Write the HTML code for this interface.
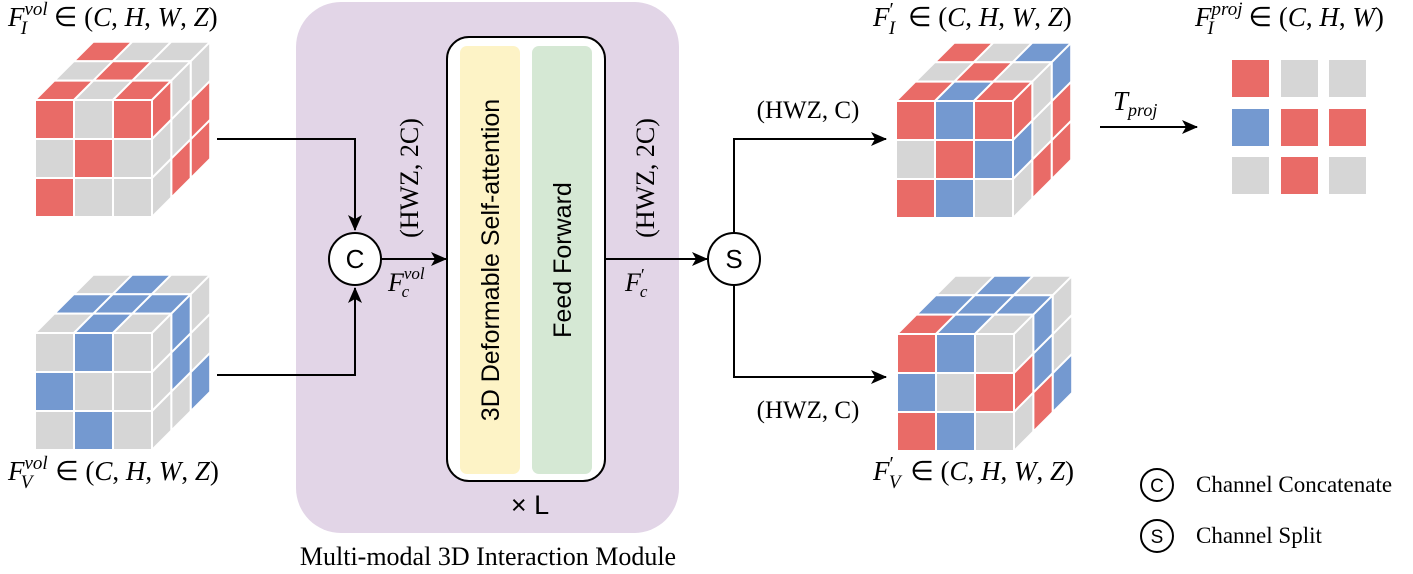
<!DOCTYPE html>
<html><head><meta charset="utf-8">
<style>
html,body{margin:0;padding:0;background:#fff;}
svg{display:block;}
.m{font-family:"Liberation Serif",serif;font-style:italic;font-size:27px;}
.r{font-style:normal;}
.s{font-family:"Liberation Serif",serif;}
.sans{font-family:"Liberation Sans",sans-serif;}
</style></head><body>
<svg id="sv" width="1413" height="574" viewBox="0 0 1413 574" xmlns="http://www.w3.org/2000/svg">
<defs>
<marker id="ar2" markerWidth="16" markerHeight="14" refX="15" refY="7" orient="auto" markerUnits="userSpaceOnUse">
<path d="M0,0 L16,7 L0,14 L4,7 Z" fill="#000"/></marker>
</defs>
<rect x="296" y="2" width="383" height="531" rx="45" fill="#E2D5E7"/>
<rect x="447" y="37" width="158" height="444" rx="22" fill="#fff" stroke="#000" stroke-width="2"/>
<rect x="460" y="46" width="60" height="428" rx="7" fill="#FDF3C6"/>
<rect x="532" y="46" width="60" height="428" rx="7" fill="#D5E8D4"/>
<text class="sans" style="font-size:25px" transform="translate(499,260) rotate(-90)" text-anchor="middle">3D Deformable Self-attention</text>
<text class="sans" style="font-size:25px" transform="translate(571,260) rotate(-90)" text-anchor="middle">Feed Forward</text>
<text class="sans" style="font-size:27px" x="530" y="514" text-anchor="middle">× L</text>
<text class="s" style="font-size:26px" x="488" y="565" text-anchor="middle">Multi-modal 3D Interaction Module</text>

<g fill="none" stroke="#000" stroke-width="2">
<path d="M217,139 H355 V230" marker-end="url(#ar2)"/>
<path d="M217,375 H355 V288" marker-end="url(#ar2)"/>
<path d="M381,259 H446" marker-end="url(#ar2)"/>
<path d="M605,259 H707" marker-end="url(#ar2)"/>
<path d="M734,233 V139 H886" marker-end="url(#ar2)"/>
<path d="M734,285 V377 H886" marker-end="url(#ar2)"/>
<path d="M1100,127 H1197" marker-end="url(#ar2)"/>
<circle cx="355" cy="259" r="26" fill="#fff"/>
<circle cx="734" cy="259" r="26" fill="#fff"/>
<circle cx="1157" cy="485" r="16" fill="#fff"/>
<circle cx="1157" cy="536" r="16" fill="#fff"/>
</g>
<text class="sans" style="font-size:26px" x="355" y="268" text-anchor="middle">C</text>
<text class="sans" style="font-size:26px" x="734" y="268" text-anchor="middle">S</text>
<text class="sans" style="font-size:19px" x="1157" y="492" text-anchor="middle">C</text>
<text class="sans" style="font-size:19px" x="1157" y="543" text-anchor="middle">S</text>
<text class="s" style="font-size:23px" x="1196" y="492">Channel Concatenate</text>
<text class="s" style="font-size:23px" x="1196" y="543">Channel Split</text>

<text class="s" style="font-size:26px" transform="translate(418,178) rotate(-90)" text-anchor="middle">(HWZ, 2C)</text>
<text class="s" style="font-size:26px" transform="translate(654,178) rotate(-90)" text-anchor="middle">(HWZ, 2C)</text>
<text class="s" style="font-size:25px" x="808" y="118" text-anchor="middle">(HWZ, C)</text>
<text class="s" style="font-size:25px" x="808" y="418" text-anchor="middle">(HWZ, C)</text>

<text class="m" x="388" y="291" style="font-size:26px">F<tspan style="font-size:17px" dy="-12">vol</tspan><tspan style="font-size:17px" dx="-23" dy="18">c</tspan></text>
<text class="m" x="625" y="291" style="font-size:26px">F<tspan style="font-size:18px" class="r" dy="-10">′</tspan><tspan style="font-size:17px" dx="-5" dy="16">c</tspan></text>
<text class="m" x="1113" y="110" style="font-size:27px">T<tspan style="font-size:18px" dy="6">proj</tspan></text>

<text class="m" x="8" y="26">F<tspan style="font-size:19px" dy="-11">vol</tspan><tspan style="font-size:19px" dx="-27" dy="19">I</tspan><tspan class="r" dx="20" dy="-8"> ∈ (</tspan>C<tspan class="r">, </tspan>H<tspan class="r">, </tspan>W<tspan class="r">, </tspan>Z<tspan class="r">)</tspan></text>
<text class="m" x="8" y="480">F<tspan style="font-size:19px" dy="-11">vol</tspan><tspan style="font-size:19px" dx="-27" dy="19">V</tspan><tspan class="r" dx="16" dy="-8"> ∈ (</tspan>C<tspan class="r">, </tspan>H<tspan class="r">, </tspan>W<tspan class="r">, </tspan>Z<tspan class="r">)</tspan></text>
<text class="m" x="873" y="26">F<tspan class="r" style="font-size:20px" dy="-10">′</tspan><tspan style="font-size:19px" dx="-5" dy="18">I</tspan><tspan class="r" dx="6" dy="-8"> ∈ (</tspan>C<tspan class="r">, </tspan>H<tspan class="r">, </tspan>W<tspan class="r">, </tspan>Z<tspan class="r">)</tspan></text>
<text class="m" x="873" y="480">F<tspan class="r" style="font-size:20px" dy="-10">′</tspan><tspan style="font-size:19px" dx="-5" dy="18">V</tspan><tspan class="r" dx="3" dy="-8"> ∈ (</tspan>C<tspan class="r">, </tspan>H<tspan class="r">, </tspan>W<tspan class="r">, </tspan>Z<tspan class="r">)</tspan></text>
<text class="m" x="1195" y="26">F<tspan style="font-size:19px" dy="-11">proj</tspan><tspan style="font-size:19px" dx="-35" dy="19">I</tspan><tspan class="r" dx="28" dy="-8"> ∈ (</tspan>C<tspan class="r">, </tspan>H<tspan class="r">, </tspan>W<tspan class="r">)</tspan></text>

<g id="cubes"></g>
<g>
<rect x="1232" y="60" width="37" height="37" fill="#E96B67"/>
<rect x="1281" y="60" width="37" height="37" fill="#D6D6D6"/>
<rect x="1329" y="60" width="37" height="37" fill="#D6D6D6"/>
<rect x="1232" y="109" width="37" height="37" fill="#7499D0"/>
<rect x="1281" y="109" width="37" height="37" fill="#E96B67"/>
<rect x="1329" y="109" width="37" height="37" fill="#E96B67"/>
<rect x="1232" y="157" width="37" height="37" fill="#D6D6D6"/>
<rect x="1281" y="157" width="37" height="37" fill="#E96B67"/>
<rect x="1329" y="157" width="37" height="37" fill="#D6D6D6"/>
</g>
</svg>
<script>
var C={R:"#E96B67",B:"#7499D0",G:"#D6D6D6"};
var out="";
function cube(x0,y0,front,top,right){
 var s=39,dx=19.4,dy=19.4;
 function poly(pts,c){out+='<polygon points="'+pts.map(function(p){return p[0].toFixed(1)+','+p[1].toFixed(1)}).join(' ')+'" fill="'+C[c]+'" stroke="#fff" stroke-width="2" stroke-linejoin="round"/>';}
 for(var k=0;k<3;k++){var L=2-k;
  for(var j=0;j<3;j++){
   var ax=x0+j*s+L*dx, ay=y0-L*dy;
   poly([[ax,ay],[ax+s,ay],[ax+s+dx,ay-dy],[ax+dx,ay-dy]],top[k][j]);}}
 for(var c=0;c<3;c++){for(var i=0;i<3;i++){
   var bx=x0+3*s+c*dx, by=y0+i*s-c*dy;
   poly([[bx,by],[bx+dx,by-dy],[bx+dx,by-dy+s],[bx,by+s]],right[c][i]);}}
 for(var i=0;i<3;i++)for(var j=0;j<3;j++){
   var fx=x0+j*s,fy=y0+i*s; poly([[fx,fy],[fx+s,fy],[fx+s,fy+s],[fx,fy+s]],front[i][j]);}
}
cube(35,100,["RGR","GRG","RGG"],["RGG","GRG","RGR"],["RGG","GGR","GRR"]);
cube(35,333,["GBG","BGG","GBG"],["GBG","BBB","GBG"],["GGG","BBG","GGB"]);
cube(896,101,["RBR","GRB","RBG"],["RGB","GRG","RBR"],["RBG","GGR","BRR"]);
cube(897,334,["RBG","BGR","RBG"],["GBG","BBB","RBG"],["GRG","BBR","GGB"]);
document.getElementById("cubes").innerHTML=out;
</script>
</body></html>
